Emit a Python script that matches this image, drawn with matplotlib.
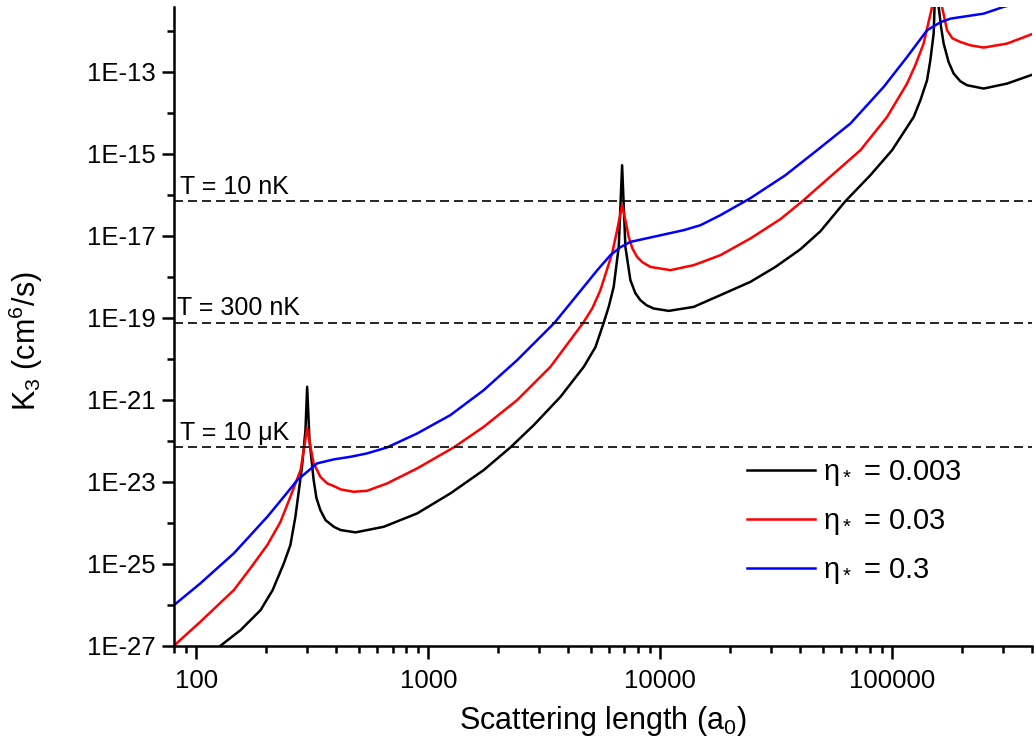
import numpy as np
import matplotlib
matplotlib.use('Agg')
import matplotlib.pyplot as plt
from matplotlib.ticker import FixedLocator, FuncFormatter, NullFormatter

plt.rcParams['font.family'] = ['Liberation Sans', 'DejaVu Sans']
plt.rcParams['mathtext.fontset'] = 'custom'
plt.rcParams['mathtext.rm'] = 'Liberation Sans'
plt.rcParams['mathtext.it'] = 'Liberation Sans:italic'

# scattering length (a0) and K3 (cm^6/s)
a_black = [127, 155, 189, 213, 238, 254, 267, 285, 295, 300, 307, 320, 329, 342, 360,
           391, 418, 485, 642, 894, 1244, 1731, 2256, 2844, 3707, 4673, 5248, 5694,
           5998, 6290, 6613, 6838, 7065, 7425, 7800, 8199, 8703, 9360, 10860, 13910,
           18140, 24430, 31330, 40120, 48970, 62720, 80380, 99700, 123600, 132100,
           141100, 145800, 150700, 155000, 158300, 162200, 166400, 174800, 183800,
           196400, 209900, 247500, 312200, 406000]
k_black = [1.0e-27, 2.41e-27, 7.4e-27, 2.28e-26, 1.02e-25, 2.86e-25, 1.40e-24, 2.32e-23,
           1.82e-22, 2.08e-21, 1.04e-22, 1.10e-23, 4.0e-24, 2.04e-24, 1.16e-24,
           7.98e-25, 6.64e-25, 5.83e-25, 7.98e-25, 1.69e-24, 5.21e-24, 1.93e-23, 6.90e-23,
           2.41e-22, 1.18e-21, 6.38e-21, 1.93e-20, 7.55e-20,
           1.93e-19, 5.71e-19, 5.39e-18, 5.30e-16, 5.39e-18, 8.31e-19, 4.0e-19, 2.70e-19,
           2.04e-19, 1.69e-19, 1.48e-19, 1.85e-19,
           3.58e-19, 7.55e-19, 1.75e-18, 4.7e-18, 1.30e-17, 7.02e-17, 3.02e-16, 1.23e-15,
           7.98e-15, 2.04e-14,
           6.28e-14, 1.93e-13, 8.65e-13, 1.0e-10, 4.0e-12, 1.25e-12, 4.93e-13, 1.75e-13,
           9.14e-14,
           5.93e-14, 4.75e-14, 3.94e-14, 5.21e-14, 8.79e-14]

a_red = [80, 104, 145, 171, 202, 230, 254, 281, 290, 300, 312, 320, 331, 342, 366,
         391, 418, 476, 544, 664, 894, 1285, 1731, 2412, 3357, 4645, 5093, 5513,
         6192, 6508, 6838, 7065, 7301, 7568, 7934, 8356, 9056, 11040, 13910, 18140,
         24430, 32880, 40930, 54050, 72810, 94880, 115700, 125600, 136400, 148300,
         155000, 163800, 172100, 181400, 196400, 216800, 247500, 312200, 406000]
k_red = [1.0e-27, 3.85e-27, 2.29e-26, 7.85e-26, 2.86e-25, 1.04e-24, 4.31e-24, 1.93e-23,
         5.93e-23, 2.00e-22, 5.93e-23, 2.81e-23, 1.93e-23, 1.32e-23, 9.14e-24,
         7.85e-24, 6.53e-24, 5.70e-24, 6.03e-24, 9.14e-24, 2.12e-23, 6.90e-23, 2.19e-22,
         9.84e-22, 6.38e-21, 7.55e-20, 1.73e-19, 4.74e-19,
         3.72e-18, 1.38e-17, 5.61e-17, 2.42e-17, 9.46e-18, 5.0e-18, 3.07e-18, 2.29e-18,
         1.75e-18, 1.46e-18, 1.93e-18, 3.38e-18,
         8.65e-18, 2.55e-17, 7.02e-17, 2.80e-16, 1.23e-15, 7.98e-15, 5.21e-14, 1.46e-13,
         4.93e-13, 3.85e-12,
         3.0e-11, 3.85e-12, 1.04e-12, 6.64e-13, 5.40e-13, 4.48e-13, 3.94e-13, 4.93e-13,
         8.65e-13]

a_blue = [80, 104, 145, 202, 238, 272, 300, 331, 391, 461, 544, 664, 894, 1244,
          1731, 2412, 3493, 4673, 5346, 6087, 6723, 7425, 9056, 12600, 14880, 18140,
          24430, 34580, 47360, 65920, 91730, 115700, 141100, 161000, 177800, 247500,
          300600, 406000]
k_blue = [9.8e-27, 3.33e-26, 1.80e-25, 1.40e-24, 4.31e-24, 1.10e-23, 1.75e-23, 2.81e-23,
          3.52e-23, 4.07e-23, 4.93e-23, 6.90e-23, 1.51e-22, 4.24e-22,
          1.72e-21, 9.29e-21, 7.55e-20, 5.71e-19, 1.46e-18, 3.38e-18, 5.30e-18, 7.14e-18,
          9.14e-18, 1.38e-17, 1.82e-17, 3.20e-17,
          8.31e-17, 3.02e-16, 1.23e-15, 5.51e-15, 4.31e-14, 2.32e-13, 1.04e-12, 1.63e-12,
          2.00e-12, 2.65e-12, 3.85e-12, 6.0e-12]

labels = ['$\\mathregular{η_*}$ = 0.003', '$\\mathregular{η_*}$ = 0.03', '$\\mathregular{η_*}$ = 0.3']
colors = ['black', 'red', 'blue']

temp_levels = [7.0e-17, 7.5e-20, 7.0e-23]
temp_labels = ['T = 10 nK', 'T = 300 nK', 'T = 10 μK']
temp_dx = [6, 3, 6]

fig = plt.figure(figsize=(10.35, 7.47), dpi=100)
ax = fig.add_axes([174 / 1035, 101.3 / 747, 858 / 1035, 638.7 / 747])

for a, k, c, lab in zip([a_black, a_red, a_blue], [k_black, k_red, k_blue], colors, labels):
    ax.plot(a, k, color=c, lw=1.8, label=lab)

for lev, txt, dx in zip(temp_levels, temp_labels, temp_dx):
    ax.axhline(lev, color='black', lw=1.2, ls=(0, (5.4, 3.0)))
    ax.annotate(txt, xy=(0, lev), xycoords=ax.get_yaxis_transform(),
                xytext=(dx * 0.72, 5.5), textcoords='offset points',
                fontsize=18, va='baseline', ha='left')

ax.set_xscale('log')
ax.set_yscale('log')
ax.set_xlim(80, 400000)
ax.set_ylim(1e-27, 3.85e-12)

ax.xaxis.set_major_locator(FixedLocator([100, 1000, 10000, 100000]))
ax.xaxis.set_major_formatter(FuncFormatter(lambda v, p: '%d' % round(v)))
ax.xaxis.set_minor_formatter(NullFormatter())

ymaj = [10.0 ** e for e in range(-27, -12, 2)]
ymin = [10.0 ** e for e in range(-26, -11, 2)]
ax.yaxis.set_major_locator(FixedLocator(ymaj))
ax.yaxis.set_minor_locator(FixedLocator(ymin))
ax.yaxis.set_major_formatter(FuncFormatter(lambda v, p: '1E%d' % round(np.log10(v))))
ax.yaxis.set_minor_formatter(NullFormatter())

for s in ['top', 'right']:
    ax.spines[s].set_visible(False)
for s in ['left', 'bottom']:
    ax.spines[s].set_linewidth(1.8)

ax.tick_params(which='major', direction='out', length=9, width=1.8, labelsize=18.5)
ax.tick_params(which='minor', direction='out', length=5, width=1.8)
ax.tick_params(axis='x', which='major', pad=8)
ax.tick_params(axis='y', which='major', pad=4)

ax.set_xlabel('Scattering length (a$_\\mathregular{0}$)', fontsize=22, labelpad=8)
ax.set_ylabel('K$_\\mathregular{3}$ (cm$^\\mathregular{6}$/s)', fontsize=22)
ax.yaxis.set_label_coords(-0.150, 0.477)

ax.legend(loc='center left', bbox_to_anchor=(0.668, 0.194), frameon=False,
          fontsize=21, handlelength=2.33, handletextpad=0.27, labelspacing=0.65,
          borderpad=0, borderaxespad=0)

fig.savefig('out.png', dpi=100)
